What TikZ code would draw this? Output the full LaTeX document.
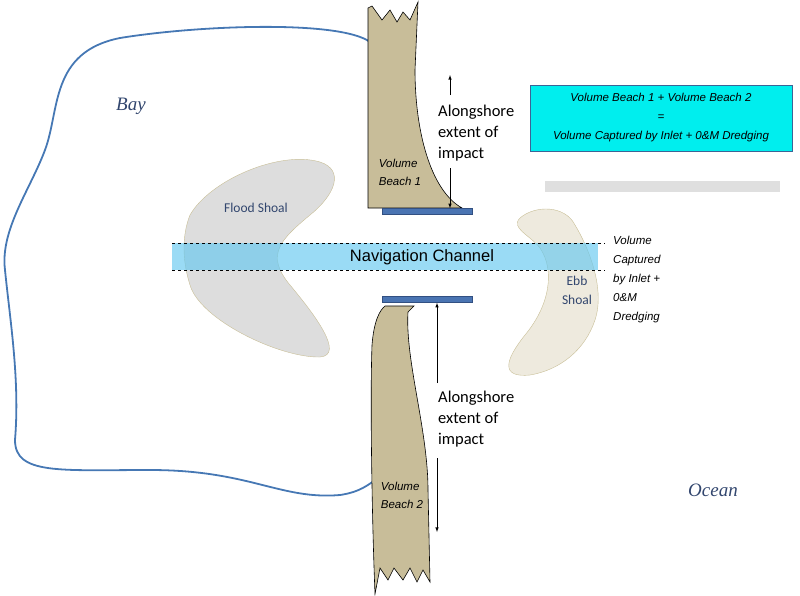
\documentclass[tikz,border=0pt]{standalone}
\usepackage{fontspec}
\setmainfont{Liberation Sans}
\newfontfamily\carl{Carlito}
\newfontfamily\myser{Liberation Serif}
\definecolor{sandc}{RGB}{200,189,153}
\definecolor{barc}{RGB}{74,116,178}
\definecolor{bard}{RGB}{50,80,130}
\definecolor{bayc}{RGB}{70,120,180}
\definecolor{shoald}{RGB}{200,190,150}
\definecolor{ebbc}{RGB}{238,234,222}
\definecolor{chan}{RGB}{100,200,240}
\definecolor{boxd}{RGB}{60,100,150}
\definecolor{boxc}{RGB}{0,238,238}
\definecolor{txtc}{RGB}{50,70,110}
\begin{document}
\begin{tikzpicture}[x=1pt,y=-1pt,
  sand/.style={fill=sandc,draw=black,line width=0.6pt},
  bar/.style={fill=barc,draw=bard,line width=0.5pt},
  lbl/.style={font=\carl\fontsize{16.5}{21}\selectfont,align=left,anchor=west,inner sep=0pt},
  vol/.style={font=\itshape\fontsize{11.5}{18}\selectfont,align=left,inner sep=0pt},
  arr/.style={-latex,line width=0.6pt}]
\useasboundingbox (0,0) rectangle (800,595);
% bay
\draw[line width=1.8pt,color=bayc] (370,42) .. controls (340,20) and (200,25) .. (120,38)
 .. controls (50,52) and (60,110) .. (45,150) .. controls (30,190) and (0,230) .. (5,270)
 .. controls (10,320) and (20,380) .. (15,440) .. controls (15,475) and (60,470) .. (150,470)
 .. controls (250,470) and (280,500) .. (340,495) .. controls (360,492) and (368,485) .. (378,478);
% shoals
\draw[fill=gray!30,draw=shoald,fill opacity=0.9] (190,215) .. controls (210,180) and (280,150) .. (320,162)
 .. controls (345,170) and (335,195) .. (310,215) .. controls (280,240) and (265,255) .. (290,285)
 .. controls (315,315) and (345,355) .. (320,357) .. controls (280,358) and (200,320) .. (190,285)
 .. controls (182,260) and (182,235) .. (190,215) -- cycle;
\draw[fill=ebbc,draw=shoald] (520,218) .. controls (535,205) and (565,205) .. (575,225)
 .. controls (590,250) and (605,290) .. (595,320) .. controls (585,350) and (560,370) .. (530,375)
 .. controls (500,378) and (505,360) .. (525,335) .. controls (550,305) and (555,270) .. (540,248)
 .. controls (530,235) and (510,228) .. (520,218) -- cycle;
% channel
\fill[chan,opacity=0.65] (172,243) rectangle (598,270);
\draw[dashed,line width=0.6pt] (172,243) -- (605,243) (172,270) -- (605,270);
\node[font=\fontsize{16.5}{18}\selectfont] (nav) at (422,257) {Navigation Channel};
% beaches
\draw[sand] (368,8) -- (368,208) -- (462,208) .. controls (430,190) and (415,130) .. (415,70) -- (418,2)
 -- (410,20) -- (403,12) -- (397,22) -- (390,10) -- (382,20) -- (372,6) -- cycle;
\draw[sand] (385,306) -- (414,306) -- (408,312) .. controls (405,360) and (428,430) .. (428,490) -- (430,582)
 -- (423,570) -- (417,582) -- (410,568) -- (403,580) -- (394,568) -- (388,580) -- (380,568) -- (375,594)
 .. controls (372,520) and (370,400) .. (372,345) .. controls (374,320) and (380,310) .. (385,306) -- cycle;
\node[bar,minimum width=90pt,minimum height=6pt,inner sep=0pt] (b1) at (427,211.5) {};
\node[bar,minimum width=90pt,minimum height=6pt,inner sep=0pt] (b2) at (427,299.5) {};
\node[vol] (v1) at (400,172) {Volume\\Beach 1};
\node[vol] (v2) at (402,495) {Volume\\Beach 2};
% arrows and labels
\node[lbl] (t1) at (438,133) {Alongshore\\extent of\\impact};
\node[lbl] (t2) at (438,419) {Alongshore\\extent of\\impact};
\coordinate (u1) at (450,75); \coordinate (u1s) at (450,95);
\coordinate (d1s) at (450,168);
\coordinate (d2) at (437,532); \coordinate (d2s) at (437,458); \coordinate (u2s) at (437,383);
\draw[arr] (u1s) -- (u1);
\draw[arr] (d1s) -- (b1.north -| d1s);
\draw[arr] (u2s) -- (b2.south -| u2s);
\draw[arr] (d2s) -- (d2);
% box
\fill[gray!25] (545,181) rectangle (780,192);
\node[draw=boxd,line width=1pt,fill=boxc,minimum width=262pt,minimum height=66pt,align=center,font=\itshape\fontsize{11.5}{19}\selectfont] (box) at (661,118)
 {Volume Beach 1 + Volume Beach 2\\=\\Volume Captured by Inlet + 0\&M Dredging};
% text
\node[font=\myser\itshape\fontsize{19}{22}\selectfont,text=txtc] (bay) at (131,106) {Bay};
\node[font=\myser\itshape\fontsize{19}{22}\selectfont,text=txtc] (ocean) at (713,490) {Ocean};
\node[font=\carl\fontsize{13.5}{19}\selectfont,text=txtc] (fs) at (256,208) {Flood Shoal};
\node[font=\carl\fontsize{13.5}{19}\selectfont,text=txtc,align=center] (es) at (577,290) {Ebb\\Shoal};
\node[vol,anchor=north west,font=\itshape\fontsize{11.5}{19}\selectfont] (vc) at (613,236) {Volume\\Captured\\by Inlet +\\0\&M\\Dredging};
\end{tikzpicture}
\end{document}
